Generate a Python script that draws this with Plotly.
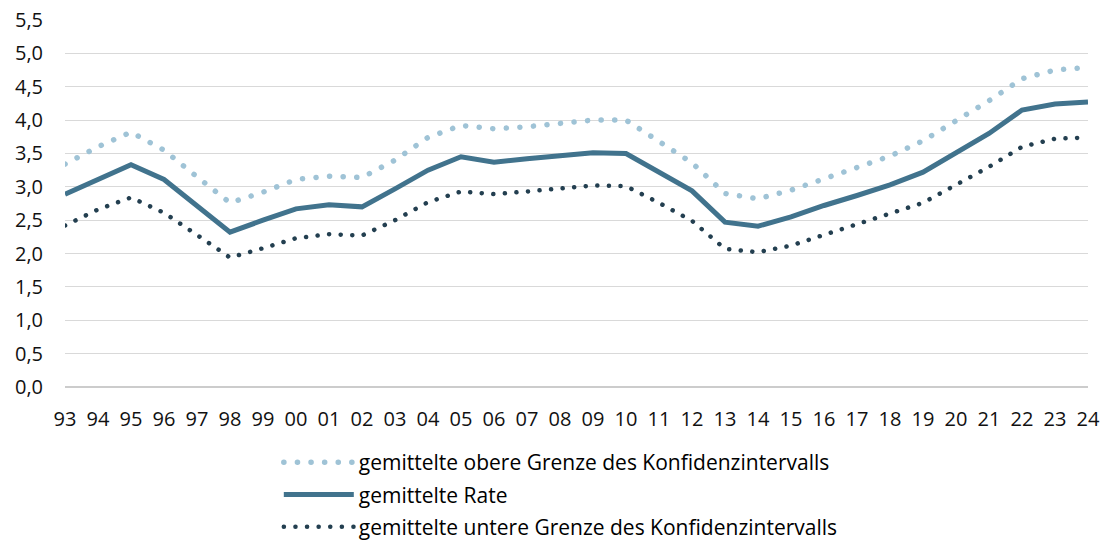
import plotly.graph_objects as go

years = ["93", "94", "95", "96", "97", "98", "99", "00", "01", "02", "03", "04",
         "05", "06", "07", "08", "09", "10", "11", "12", "13", "14", "15", "16",
         "17", "18", "19", "20", "21", "22", "23", "24"]

upper = [3.34, 3.60, 3.82, 3.55, 3.15, 2.76, 2.92, 3.11, 3.16, 3.14, 3.40, 3.74,
         3.92, 3.87, 3.90, 3.94, 4.00, 4.00, 3.69, 3.36, 2.90, 2.82, 2.95, 3.12,
         3.29, 3.46, 3.69, 3.98, 4.29, 4.62, 4.75, 4.79]

rate = [2.89, 3.12, 3.33, 3.11, 2.72, 2.32, 2.50, 2.67, 2.73, 2.70, 2.97, 3.25,
        3.45, 3.37, 3.42, 3.46, 3.51, 3.50, 3.22, 2.94, 2.47, 2.41, 2.55, 2.72,
        2.87, 3.03, 3.22, 3.50, 3.80, 4.15, 4.24, 4.27]

lower = [2.42, 2.66, 2.84, 2.61, 2.28, 1.94, 2.08, 2.23, 2.29, 2.27, 2.50, 2.77,
         2.93, 2.89, 2.93, 2.97, 3.02, 3.01, 2.76, 2.49, 2.07, 2.02, 2.12, 2.28,
         2.44, 2.59, 2.76, 3.03, 3.30, 3.60, 3.72, 3.74]

y_ticks = [0, 0.5, 1, 1.5, 2, 2.5, 3, 3.5, 4, 4.5, 5, 5.5]
y_labels = [f"{v:.1f}".replace(".", ",") for v in y_ticks]

names = ["gemittelte obere Grenze des Konfidenzintervalls",
         "gemittelte Rate",
         "gemittelte untere Grenze des Konfidenzintervalls"]

fig = go.Figure()
fig.add_trace(go.Scatter(x=years, y=upper, mode="lines", name=names[0], legendgroup="a",
                         line=dict(color="#9fc3d6", width=5.5, dash="0.1px,13.5px")))
fig.add_trace(go.Scatter(x=years, y=rate, mode="lines", name=names[1], legendgroup="b",
                         line=dict(color="#41738d", width=5)))
fig.add_trace(go.Scatter(x=years, y=lower, mode="lines", name=names[2], legendgroup="c",
                         line=dict(color="#233f50", width=4.5, dash="0.1px,11.5px")))

font = "Open Sans, Noto Sans, sans-serif"
fig.update_layout(
    width=1105, height=546,
    margin=dict(l=65, r=17, t=20, b=159, autoexpand=False),
    paper_bgcolor="white", plot_bgcolor="white",
    font=dict(family=font, size=20, color="#111111"),
    showlegend=True,
    legend=dict(x=0.209, xanchor="left", yref="container", y=1 - 442 / 546, yanchor="top",
                font=dict(size=21, color="#000000"),
                tracegroupgap=2, itemwidth=70, bgcolor="rgba(0,0,0,0)"),
    xaxis=dict(type="category", range=[0, 31], showgrid=False, zeroline=False,
               showline=False, ticks="", tickfont=dict(size=20), ticklabelstandoff=18,
               automargin=False),
    yaxis=dict(range=[0, 5.5], tickvals=y_ticks, ticktext=y_labels,
               showgrid=True, gridcolor="#d9d9d9", gridwidth=1.3, zeroline=True,
               zerolinecolor="#cccccc", zerolinewidth=1.8, showline=False, ticks="",
               tickfont=dict(size=20), ticklabelstandoff=21, automargin=False),
)

# round caps turn the dotted dashes into circular dots
post = """
var gd = document.querySelector('.plotly-graph-div');
function roundCaps(){
  gd.querySelectorAll('path.js-line').forEach(function(p){
    if ((p.style.strokeDasharray || '') !== '' && p.style.strokeDasharray !== 'none') {
      p.style.strokeLinecap = 'round';
    }
  });
}
roundCaps();
gd.on('plotly_afterplot', roundCaps);
"""
fig.write_html("out.html", post_script=post)
